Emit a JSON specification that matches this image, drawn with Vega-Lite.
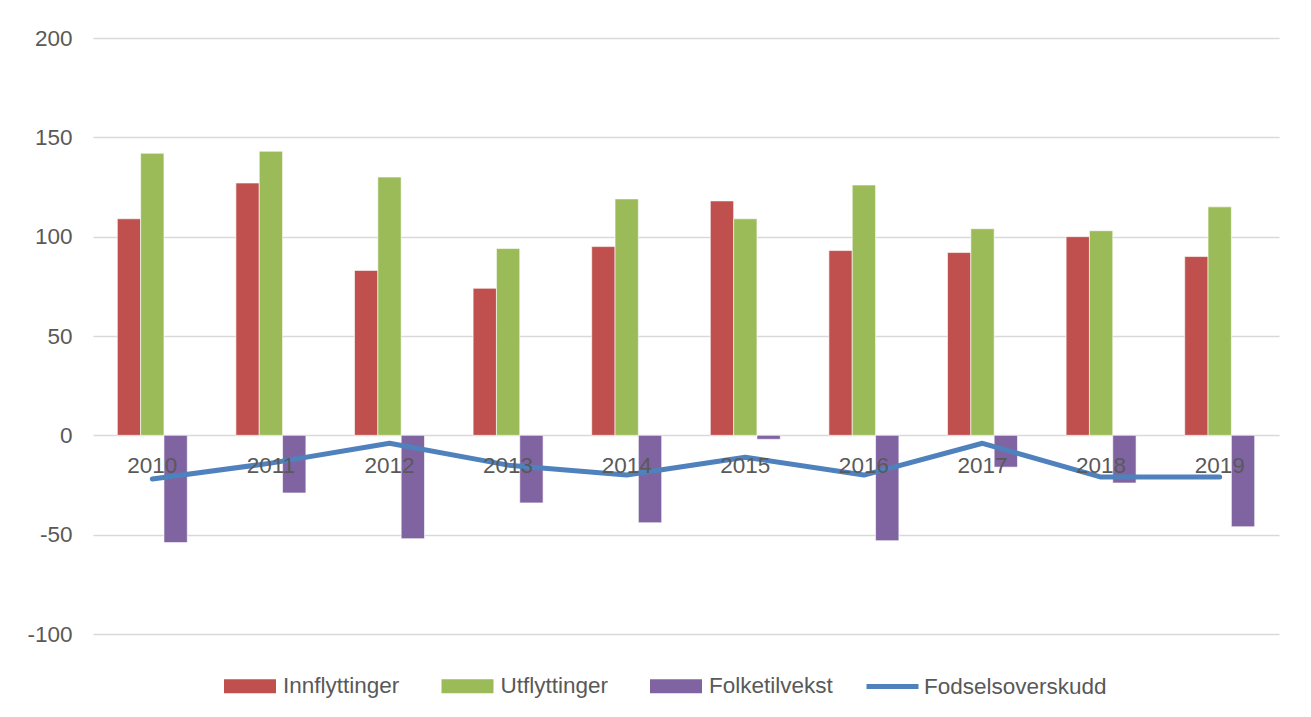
{
  "$schema": "https://vega.github.io/schema/vega-lite/v6.json",
  "width": 1186,
  "height": 596,
  "autosize": "none",
  "padding": {"left": 93, "top": 38, "right": 32, "bottom": 83},
  "background": "white",
  "config": {"view": {"stroke": null}, "font": "Liberation Sans"},
  "data": {
    "values": [
      {"year": "2010", "series": "Innflyttinger", "value": 109},
      {"year": "2010", "series": "Utflyttinger", "value": 142},
      {"year": "2010", "series": "Folketilvekst", "value": -54},
      {"year": "2010", "series": "Fodselsoverskudd", "value": -22},
      {"year": "2011", "series": "Innflyttinger", "value": 127},
      {"year": "2011", "series": "Utflyttinger", "value": 143},
      {"year": "2011", "series": "Folketilvekst", "value": -29},
      {"year": "2011", "series": "Fodselsoverskudd", "value": -14},
      {"year": "2012", "series": "Innflyttinger", "value": 83},
      {"year": "2012", "series": "Utflyttinger", "value": 130},
      {"year": "2012", "series": "Folketilvekst", "value": -52},
      {"year": "2012", "series": "Fodselsoverskudd", "value": -4},
      {"year": "2013", "series": "Innflyttinger", "value": 74},
      {"year": "2013", "series": "Utflyttinger", "value": 94},
      {"year": "2013", "series": "Folketilvekst", "value": -34},
      {"year": "2013", "series": "Fodselsoverskudd", "value": -15},
      {"year": "2014", "series": "Innflyttinger", "value": 95},
      {"year": "2014", "series": "Utflyttinger", "value": 119},
      {"year": "2014", "series": "Folketilvekst", "value": -44},
      {"year": "2014", "series": "Fodselsoverskudd", "value": -20},
      {"year": "2015", "series": "Innflyttinger", "value": 118},
      {"year": "2015", "series": "Utflyttinger", "value": 109},
      {"year": "2015", "series": "Folketilvekst", "value": -2},
      {"year": "2015", "series": "Fodselsoverskudd", "value": -11},
      {"year": "2016", "series": "Innflyttinger", "value": 93},
      {"year": "2016", "series": "Utflyttinger", "value": 126},
      {"year": "2016", "series": "Folketilvekst", "value": -53},
      {"year": "2016", "series": "Fodselsoverskudd", "value": -20},
      {"year": "2017", "series": "Innflyttinger", "value": 92},
      {"year": "2017", "series": "Utflyttinger", "value": 104},
      {"year": "2017", "series": "Folketilvekst", "value": -16},
      {"year": "2017", "series": "Fodselsoverskudd", "value": -4},
      {"year": "2018", "series": "Innflyttinger", "value": 100},
      {"year": "2018", "series": "Utflyttinger", "value": 103},
      {"year": "2018", "series": "Folketilvekst", "value": -24},
      {"year": "2018", "series": "Fodselsoverskudd", "value": -21},
      {"year": "2019", "series": "Innflyttinger", "value": 90},
      {"year": "2019", "series": "Utflyttinger", "value": 115},
      {"year": "2019", "series": "Folketilvekst", "value": -46},
      {"year": "2019", "series": "Fodselsoverskudd", "value": -21}
    ]
  },
  "encoding": {
    "x": {
      "field": "year",
      "type": "nominal",
      "scale": {"paddingInner": 0.41, "paddingOuter": 0.205},
      "axis": {
        "title": null,
        "orient": "bottom",
        "offset": -198.7,
        "domain": false,
        "ticks": false,
        "grid": false,
        "labelAngle": 0,
        "labelPadding": 19,
        "labelFontSize": 22.5,
        "labelColor": "#595959",
        "zindex": 1
      }
    }
  },
  "layer": [
    {
      "transform": [{"filter": "datum.series !== 'Fodselsoverskudd'"}],
      "mark": {"type": "bar", "stroke": "white", "strokeWidth": 0.6},
      "encoding": {
        "xOffset": {
          "field": "series",
          "type": "nominal",
          "scale": {"domain": ["Innflyttinger", "Utflyttinger", "Folketilvekst"], "paddingInner": 0, "paddingOuter": 0}
        },
        "y": {
          "field": "value",
          "type": "quantitative",
          "scale": {"domain": [-100, 200], "nice": false, "zero": false},
          "axis": {
            "title": null,
            "values": [-100, -50, 0, 50, 100, 150, 200],
            "labelExpr": "'' + datum.value",
            "grid": true,
            "gridColor": "#D9D9D9",
            "gridWidth": 1.5,
            "domain": false,
            "ticks": false,
            "labelPadding": 21,
            "labelFontSize": 22.5,
            "labelColor": "#595959"
          }
        },
        "fill": {
          "field": "series",
          "type": "nominal",
          "scale": {
            "domain": ["Innflyttinger", "Utflyttinger", "Folketilvekst"],
            "range": ["#C0504D", "#9BBB59", "#8064A2"]
          },
          "legend": {
            "title": null,
            "orient": "none",
            "legendX": 131,
            "legendY": 622,
            "direction": "horizontal",
            "symbolType": "M-1,-0.27L1,-0.27L1,0.27L-1,0.27Z",
            "symbolSize": 2704,
            "symbolStrokeWidth": 0,
            "labelFontSize": 22.5,
            "labelColor": "#595959",
            "labelOffset": 7,
            "labelLimit": 400,
            "columnPadding": 41.5
          }
        }
      }
    },
    {
      "transform": [{"filter": "datum.series === 'Fodselsoverskudd'"}],
      "mark": {"type": "line", "strokeWidth": 5, "strokeCap": "round", "strokeJoin": "round"},
      "encoding": {
        "y": {"field": "value", "type": "quantitative"},
        "stroke": {
          "field": "series",
          "type": "nominal",
          "scale": {"domain": ["Fodselsoverskudd"], "range": ["#4F81BD"]},
          "legend": {
            "title": null,
            "orient": "none",
            "legendX": 771,
            "legendY": 620,
            "direction": "horizontal",
            "symbolType": "stroke",
            "symbolSize": 2704,
            "symbolStrokeWidth": 5,
            "labelFontSize": 22.5,
            "labelColor": "#595959",
            "labelOffset": 3,
            "labelLimit": 400
          }
        }
      }
    }
  ]
}
